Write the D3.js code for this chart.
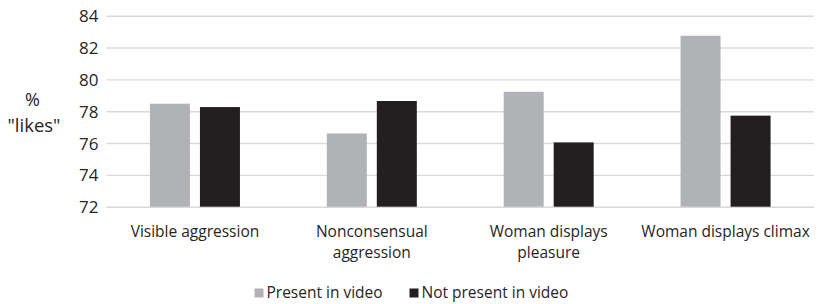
<!DOCTYPE html>
<html>
<head>
<meta charset="utf-8">
<script src="https://cdn.jsdelivr.net/npm/d3@7"></script>
<style>
  html, body { margin: 0; padding: 0; background: #fff; }
  svg { display: block; font-family: "Open Sans", sans-serif; }
</style>
</head>
<body>
<svg id="chart" width="819" height="304"></svg>
<script>
const categories = [
  ["Visible aggression"],
  ["Nonconsensual", "aggression"],
  ["Woman displays", "pleasure"],
  ["Woman displays climax"]
];
const categoryKeys = categories.map(c => c.join(" "));
const seriesNames = ["Present in video", "Not present in video"];
const presentValues = [78.47, 76.6, 79.22, 82.74];
const notPresentValues = [78.26, 78.64, 76.04, 77.72];
const yTicks = [72, 74, 76, 78, 80, 82, 84];
const colors = ["#b1b2b5", "#231f20"];

const seriesValues = [presentValues, notPresentValues];
const textColor = "#262626";

const svg = d3.select("#chart");
const margin = { left: 106.5, right: 5, top: 15.7, bottom: 97.3 };
const W = 819, H = 304;

const x0 = d3.scaleBand().domain(categoryKeys).range([margin.left, W - margin.right]).padding(0);
const step = x0.step();
const x1 = d3.scaleBand().domain(seriesNames)
  .range([step / 2 - 45, step / 2 + 45]).paddingInner(0.2).paddingOuter(0);
const y = d3.scaleLinear().domain([72, 84]).range([H - margin.bottom, margin.top]);

// gridlines + tick labels via axis
const yAxis = d3.axisLeft(y).tickValues(yTicks).tickSize(-(W - margin.right - margin.left)).tickPadding(8);
const gy = svg.append("g").attr("transform", `translate(${margin.left},0)`).call(yAxis);
gy.select(".domain").remove();
gy.selectAll(".tick line").attr("stroke", "#d9d9d9").attr("stroke-width", 1.4);
gy.selectAll(".tick text")
  .attr("x", -8)
  .attr("dy", "0.36em")
  .attr("fill", textColor)
  .style("font-size", "17px")
  .style("font-family", "'Open Sans', sans-serif");

// bars
const groups = svg.append("g").selectAll("g")
  .data(categoryKeys)
  .join("g")
  .attr("transform", d => `translate(${x0(d)},0)`);

groups.selectAll("rect")
  .data((d, i) => seriesNames.map((s, j) => ({ s, v: seriesValues[j][i], j })))
  .join("rect")
  .attr("x", d => x1(d.s))
  .attr("width", x1.bandwidth())
  .attr("y", d => y(d.v))
  .attr("height", d => y(72) - y(d.v))
  .attr("fill", d => colors[d.j]);

// category labels
const catG = svg.append("g");
categories.forEach((lines, i) => {
  const cx = x0(categoryKeys[i]) + step / 2;
  const t = catG.append("text")
    .attr("text-anchor", "middle")
    .attr("fill", textColor)
    .style("font-size", "15.5px");
  lines.forEach((ln, k) => {
    t.append("tspan").attr("x", cx).attr("y", 237 + k * 21).text(ln);
  });
});

// y axis title
svg.append("text").attr("x", 32.5).attr("y", 105.5).attr("text-anchor", "middle")
  .attr("fill", textColor).style("font-size", "18px").text("%");
svg.append("text").attr("x", 34).attr("y", 131.5).attr("text-anchor", "middle")
  .attr("fill", textColor).style("font-size", "18.5px").text("\"likes\"");

// legend
const legendItems = [
  { name: seriesNames[0], color: colors[0], x: 254.5 },
  { name: seriesNames[1], color: colors[1], x: 409.5 }
];
const lg = svg.append("g");
legendItems.forEach(it => {
  lg.append("rect").attr("x", it.x).attr("y", 288.5).attr("width", 9).attr("height", 9).attr("fill", it.color);
  lg.append("text").attr("x", it.x + 12).attr("y", 298).attr("fill", textColor)
    .style("font-size", "15.5px").text(it.name);
});
</script>
</body>
</html>
